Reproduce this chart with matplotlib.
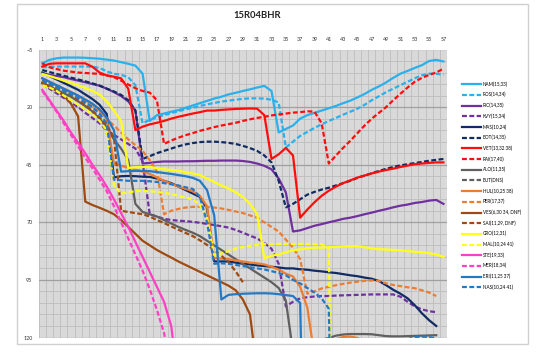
import numpy as np
import matplotlib
matplotlib.use('Agg')
import matplotlib.pyplot as plt
from matplotlib.patches import Rectangle

plt.rcParams['font.family'] = ['Lato', 'DejaVu Sans']

title = '15R04BHR'
laps = list(range(1, 58))
x_tick_labels = list(range(1, 58, 2))
y_tick_labels = [-5, 20, 45, 70, 95, 120]

NAM = [1, -0.5, -1.2, -1.5, -1.5, -1.5, -1.4, -1.2, -1, -0.6,
       -0.2, 0.5, 1.2, 2, 5.5, 26, 23.5, 22.8, 22, 21.3,
       20.3, 19.3, 18.3, 17.3, 16.3, 15.5, 14.5, 13.8, 13, 12.3,
       11.5, 10.8, 13, 31, 29.5, 28, 25, 23.5, 22.5, 21.5,
       20.5, 19.5, 18.3, 17.2, 15.8, 14.3, 12.5, 11, 9.3, 7.3,
       5.5, 4.3, 3, 1.8, 0, -0.5, 0.2]
ROS = [2.7, 2.5, 2.4, 2.4, 2.4, 2.4, 2.4, 2.5, 3, 4.5,
       5.5, 6, 7, 10.5, 27, 25.5, 24.5, 23.5, 22.6, 21.8,
       21, 20.3, 19.5, 18.8, 18.2, 17.6, 17.2, 16.8, 16.4, 16.2,
       16.2, 16.3, 16.8, 18, 37.5, 35, 32.5, 30.8, 29, 27.5,
       26, 24.7, 23.3, 22, 20.7, 19, 17, 15.3, 13.5, 12,
       10.5, 9, 7.5, 6.2, 5.5, 5.5, 6]
RIC = [5.5, 6, 6.5, 7, 7.8, 8.5, 9.2, 10, 10.7, 12,
       13.5, 15.2, 17.5, 21.5, 44.5, 44.2, 43.8, 43.6, 43.6, 43.6,
       43.5, 43.5, 43.4, 43.3, 43.3, 43.2, 43.2, 43.2, 43.4, 43.8,
       44.5, 45.5, 47, 51, 57, 74, 73.5, 72.5, 71.5, 70.8,
       70, 69.3, 68.5, 68, 67.3, 66.5, 65.8, 65, 64.3, 63.5,
       62.8, 62.3, 61.6, 61.2, 60.6, 60.3, 62]
KVY = [10, 12, 14, 16, 18, 20, 22.5, 24.7, 27, 30,
       32, 34, 36, 38, 43.5, 66.5, 67.5, 68.5, 69, 69.3,
       69.5, 69.8, 70.2, 70.7, 71.2, 71.7, 72.3, 73.3, 74.5, 75.8,
       77, 79, 81.5, 88, 106.5, 104.5, 103, 102.5, 102.2, 102,
       102, 101.8, 101.7, 101.6, 101.5, 101.4, 101.3, 101.3, 101.3, 101.3,
       102.3, 104.5, 106.5, 107.8, 108.6, 109, None]
MAS = [5, 6.5, 8, 9.5, 11, 12.5, 14.5, 16.5, 19, 23,
       50.5, 50, 49.9, 50, 50.2, 50.3, 51, 52, 53, 54.5,
       56, 57.5, 59, 64, 87, 87, 87, 87.5, 88, 88.3,
       88.7, 89, 89.3, 89.6, 90, 90, 90.4, 90.6, 91, 91.3,
       91.7, 92, 92.5, 93, 93.4, 94, 94.5, 95.5, 97.3, 99.3,
       101, 103, 106, 109.5, 112.5, 115, None]
BOT = [3.9, 4.8, 5.6, 6.4, 7.2, 8, 8.8, 9.7, 10.7, 12,
       13.2, 14.7, 17, 21.5, 42.5, 41.3, 40, 39, 38, 37,
       36.2, 35.6, 35.2, 35, 35, 35.2, 35.5, 36, 36.8, 37.8,
       39, 41, 44, 52, 63.5, 62, 60, 58, 56.8, 55.8,
       55, 54, 53, 52, 50.7, 49.7, 48.7, 47.7, 46.8, 46,
       45.3, 44.8, 44.3, 43.8, 43.3, 42.9, 42.5]
VET = [2.4, 1.2, 1, 1, 1, 1, 1, 2.5, 5, 6.3,
       6.8, 7.5, 12, 30, 28.5, 27.5, 26.8, 26, 25, 24.2,
       23.5, 22.8, 22.2, 21.5, 21.5, 21.2, 21, 20.8, 20.7, 20.6,
       20.7, 23.5, 42.5, 40.5, 37.7, 41, 68, 64.5, 61.3, 58.5,
       56.3, 54.5, 53, 51.8, 50.6, 49.7, 48.8, 48, 47.3, 46.7,
       46, 45.4, 44.8, 44.5, 44.2, 44, 44]
RAI = [1, 2.7, 3.5, 4.2, 4.6, 5, 5.2, 5.4, 5.6, 6.2,
       7, 8.5, 10.2, 11.8, 13, 13.7, 17, 36, 34.5, 33.3,
       32.2, 31.3, 30.3, 29.5, 28.7, 28, 27.4, 26.8, 26, 25.3,
       24.7, 24.2, 23.6, 23.2, 22.8, 22.4, 22.2, 21.8, 22, 27,
       44.5, 41, 37.7, 34.6, 31.3, 28, 25, 22.5, 20, 17,
       14.2, 11.5, 9, 7.3, 6, 5, 3.3]
ALO = [9.5, 11, 12.5, 14, 15.5, 17.5, 19.5, 22, 25, 29,
       34, 38, 43, 62, 65.5, 66.5, 67.5, 69, 70.5, 72,
       73.3, 74.5, 76, 78, 80, 82, 84, 86, 88, 90,
       92, 94, 96, 98.5, 104, 126, 125, 124, 122.5, 121,
       120.2, 119.2, 118.7, 118.5, 118.5, 118.5, 118.6, 119, 119.4, 119.5,
       119.5, 119.4, 119.3, 119.2, 119.1, 119, None]
BUT = [None] * 57
HUL = [7.5, 9, 10.5, 12, 13.5, 15, 17, 19, 21.5, 25,
       44.5, 45.5, 46.3, 47, 48, 49, 50.5, 52, 53.3, 54.5,
       55.5, 56.5, 58.5, 63, 85.5, 85.8, 86, 86.5, 87, 87.5,
       87.8, 88.3, 89.3, 90.5, 92.3, 93.5, 98, 107, 128, 125,
       122.5, 120.7, 119.8, 119.6, 120.2, 122, 124, None, None, None,
       None, None, None, None, None, None, None]
PER = [8, 9.5, 11, 12.5, 14, 15.5, 17.5, 19.5, 22, 25,
       28, 31, 34, 36.5, 39, 43, 48, 66.5, 65, 64.2,
       63.6, 63.3, 63.2, 63.3, 63.6, 64, 64.6, 65.3, 66, 67,
       68, 70, 72, 74, 77.5, 81, 86, 101, 100, 98.7,
       98, 97.3, 96.7, 96.2, 95.8, 95.4, 95.2, 95.5, 96.5, 97.2,
       97.7, 98.2, 98.6, 99.5, 100.5, 102, None]
VES = [9.5, 11, 13, 15, 18.5, 24, 61, 62.5, 63.7, 65,
       66.5, 69, 72, 75, 78, 80, 82, 83.7, 85.3, 87,
       88.5, 90, 91.5, 93, 94.5, 96, 97.5, 99.5, 103.5, 110,
       135, None, None, None, None, None, None, None, None, None,
       None, None, None, None, None, None, None, None, None, None,
       None, None, None, None, None, None, None]
SAI = [8.5, 10, 11.5, 13, 15, 17, 19, 21.5, 24.5, 28,
       33, 65, 65.5, 66, 66.5, 67.5, 69, 70.3, 71.8, 73.2,
       74.6, 76, 77.8, 79.8, 82, 84.5, 87.3, 91.3, 96, None,
       None, None, None, None, None, None, None, None, None, None,
       None, None, None, None, None, None, None, None, None, None,
       None, None, None, None, None, None, None]
GRO = [5.6, 6.5, 7.5, 8.5, 9.5, 10.5, 11.7, 13, 14.5, 17.5,
       21.5, 26, 46.4, 46.2, 46, 46, 46.5, 47, 47.3, 47.7,
       48.2, 48.8, 49.5, 51, 52.5, 54, 55.3, 57, 59, 62,
       66.5, 85.6, 84.5, 84, 83, 82.2, 81.7, 81.3, 81, 81,
       80.8, 80.7, 80.5, 80.4, 80.4, 80.8, 81.3, 81.7, 81.8, 82,
       82.2, 82.5, 82.8, 83, 83.4, 84, 85]
MAL = [10.5, 11.5, 13, 15, 17, 19, 21, 23, 26, 30,
       54, 57.5, 57, 56.5, 56.4, 56.5, 56.8, 57.2, 57.7, 58.5,
       59.3, 60, 62.5, 68, 84.5, 83.5, 82.5, 81.5, 80.7, 80.2,
       79.8, 79.5, 79.5, 79.4, 79.4, 79.4, 79.4, 79.4, 79.5, 79.5,
       81, 300, None, None, None, None, None, None, None, None,
       None, None, None, None, None, None, None]
STE = [12.5, 17, 21.5, 26, 31, 35.5, 40, 45, 49.5, 54.5,
       60, 66, 72, 78.5, 85, 91.5, 98, 104.5, 115, 140,
       None, None, None, None, None, None, None, None, None, None,
       None, None, None, None, None, None, None, None, None, None,
       None, None, None, None, None, None, None, None, None, None,
       None, None, None, None, None, None, None]
MER = [13, 17.5, 22, 27, 32, 37, 42, 46.5, 51.5, 56.5,
       63, 70, 77, 84, 91, 99, 108, 118, 135, None,
       None, None, None, None, None, None, None, None, None, None,
       None, None, None, None, None, None, None, None, None, None,
       None, None, None, None, None, None, None, None, None, None,
       None, None, None, None, None, None, None]
ERI = [7.5, 9, 10.5, 12, 13.5, 15, 16.7, 18.5, 21, 24.5,
       30, 48, 47.8, 47.7, 47.7, 47.8, 48.2, 48.6, 49, 49.5,
       50, 50.7, 52, 56, 67, 103.5, 101.5, 101.2, 101, 100.9,
       100.8, 100.8, 100.9, 101.2, 101.6, 102, 105, 250, None, None,
       None, None, None, None, None, None, None, None, None, None,
       None, None, None, None, None, None, None]
NAS = [8.5, 10, 11.5, 13, 14.5, 16, 18, 20, 23, 27,
       51.5, 51.7, 52, 52, 52, 52.2, 52.5, 53, 53.5, 54,
       54.8, 55.5, 59, 70, 88, 87.8, 88, 88.5, 89, 89.5,
       90, 90.5, 91.2, 92, 93, 95, 96.5, 98.5, 100.5, 103,
       107.5, 250, None, None, None, None, None, None, None, None,
       None, 120.8, 119.8, 119.6, 119.8, 120.5, None]

series = [
    ('NAM(15,33)', NAM, '#2AB0EA', 'solid'),
    ('ROS(14,34)', ROS, '#2AB0EA', 'dash'),
    ('RIC(14,35)', RIC, '#7030A0', 'solid'),
    ('KVY(15,34)', KVY, '#7030A0', 'dash'),
    ('MAS(10,24)', MAS, '#112B63', 'solid'),
    ('BOT(14,35)', BOT, '#112B63', 'dash'),
    ('VET(13,32 38)', VET, '#FF0D0D', 'solid'),
    ('RAI(17,40)', RAI, '#FF0D0D', 'dash'),
    ('ALO(11,35)', ALO, '#606060', 'solid'),
    ('BUT(DNS)', BUT, '#606060', 'dash'),
    ('HUL(10,25 38)', HUL, '#ED7D31', 'solid'),
    ('PER(17,37)', PER, '#ED7D31', 'dash'),
    ('VES(6,30 34, DNF)', VES, '#9E4A12', 'solid'),
    ('SAI(11,29, DNF)', SAI, '#9E4A12', 'dash'),
    ('GRO(12,31)', GRO, '#FFFF1A', 'solid'),
    ('MAL(10,24 41)', MAL, '#FFFF1A', 'dash'),
    ('STE(19,33)', STE, '#FF3FC5', 'solid'),
    ('MER(18,34)', MER, '#FF3FC5', 'dash'),
    ('ERI(11,25 37)', ERI, '#2479C4', 'solid'),
    ('NAS(10,24 41)', NAS, '#2479C4', 'dash'),
]

W, H = 550, 357
fig = plt.figure(figsize=(W / 100, H / 100), dpi=100)
fig.patch.set_facecolor('white')

# chart frame
fig.add_artist(Rectangle((17 / W, 1 - 344 / H), (528 - 17) / W, (344 - 3.5) / H,
                         transform=fig.transFigure, fill=False,
                         edgecolor='#D0D0D0', lw=1.0))

left, right, top, bottom = 38.7, 447.0, 49.5, 337.5
ax = fig.add_axes([left / W, 1 - bottom / H, (right - left) / W, (bottom - top) / H])
ax.set_facecolor('#D9D9D9')

for name, vals, color, style in series:
    y = np.array([np.nan if v is None else v for v in vals], dtype=float)
    ls = (0, (2.2, 1.1)) if style == 'dash' else '-'
    ax.plot(laps, y, color=color, lw=1.6, linestyle=ls, label=name,
            solid_joinstyle='round', dash_capstyle='butt')

ax.set_xlim(0.5, 57.5)
ax.set_ylim(120, -5)
ax.set_xticks(x_tick_labels)
ax.set_xticks(np.arange(0.5, 58, 1), minor=True)
ax.set_yticks(y_tick_labels)
ax.set_yticks(np.arange(-5, 121, 5), minor=True)
ax.xaxis.tick_top()
ax.tick_params(which='both', length=0)
ax.tick_params(axis='x', pad=5.5, labelsize=3.9, colors='#333333')
ax.tick_params(axis='y', pad=4.5, labelsize=3.9, colors='#333333')
ax.grid(which='minor', color='#BDBDBD', lw=0.6)
ax.grid(which='major', axis='y', color='#A0A0A0', lw=0.9)
ax.set_axisbelow(True)
for s in ax.spines.values():
    s.set_visible(False)

fig.text(257 / W, 1 - 15 / H, title, ha='center', va='center',
         fontsize=6.8, fontweight='bold', color='#222222')

handles, labels = ax.get_legend_handles_labels()
fig.legend(handles, labels, loc='upper left',
           bbox_to_anchor=(462 / W, 1 - 81.5 / H), frameon=False,
           fontsize=3.3, handlelength=4.2, handletextpad=0.3,
           labelspacing=1.16, borderpad=0, borderaxespad=0)

fig.savefig('out.png', dpi=100)
